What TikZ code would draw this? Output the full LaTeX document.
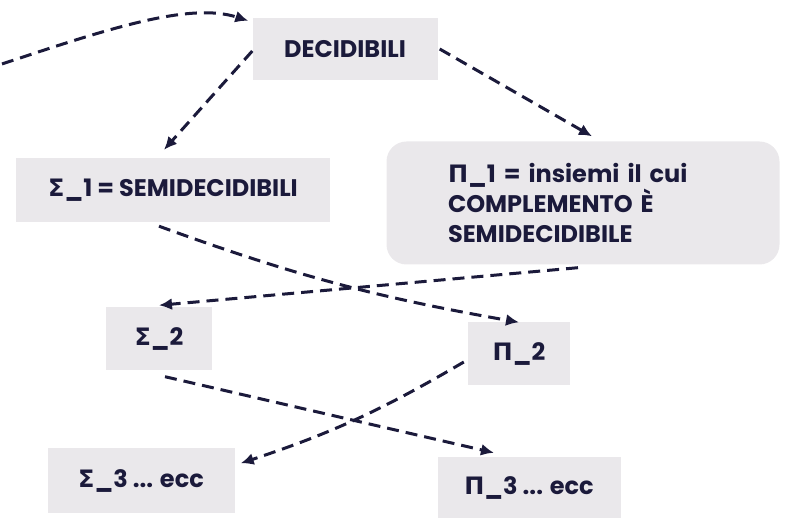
\documentclass[tikz,border=0pt]{standalone}
\usepackage{fontspec}
\setmainfont{Poppins}
\newfontfamily\greco{DejaVu Sans}
\usetikzlibrary{arrows.meta,positioning}
\definecolor{inchiostro}{HTML}{1B1A3B}
\definecolor{carta}{HTML}{EAE8EB}
\newcommand{\Sig}{{\greco Σ}}
\newcommand{\Pig}{{\greco Π}}

\begin{document}
\begin{tikzpicture}[x=1pt,y=1pt,
      classe/.style={rectangle, fill=carta, inner sep=0pt, text=inchiostro, font=\bfseries\fontsize{24}{30}\selectfont},
      freccia/.style={-{Latex[length=13pt,width=12pt]}, draw=inchiostro, line width=3pt, dash pattern=on 12pt off 7pt}]
\useasboundingbox (0,0) rectangle (793,-518);

\node[classe, minimum width=185pt, minimum height=62pt] (dec) at (345,-49) {DECIDIBILI};
\node[classe, minimum width=314pt, minimum height=64pt] (s1) at (173,-190) {\Sig\_1 = SEMIDECIDIBILI};
\node[classe, rounded corners=20pt, minimum width=393pt, minimum height=123pt, text width=270pt, align=left] (p1) at (583,-203) {\Pig\_1 = insiemi il cui\\COMPLEMENTO È\\SEMIDECIDIBILE};
\node[classe, minimum width=106pt, minimum height=63pt] (s2) at (159,-339) {\Sig\_2};
\node[classe, minimum width=102pt, minimum height=63pt] (p2) at (519,-354) {\Pig\_2};
\node[classe, minimum width=187pt, minimum height=65pt] (s3) at (141,-481) {\Sig\_3 ... ecc};
\node[classe, minimum width=183pt, minimum height=62pt] (p3) at (529,-488) {\Pig\_3 ... ecc};
\coordinate (ingresso) at (2,-64);

\draw[freccia] (ingresso) .. controls (110,-28) and (190,-2) .. ([xshift=-4pt,yshift=-3pt]dec.north west);
\draw[freccia] ([yshift=-2pt]dec.west) -- ([xshift=-9pt,yshift=8pt]s1.north);
\draw[freccia] ([xshift=2pt]dec.east) -- ([xshift=9pt,yshift=5pt]p1.north);
\draw[freccia] ([xshift=-14pt,yshift=-4pt]s1.south) to[bend right=5] (p2.north);
\draw[freccia] ([xshift=-5pt,yshift=-3pt]p1.south) -- ([yshift=2pt]s2.north);
\draw[freccia] ([xshift=6pt,yshift=-6pt]s2.south) -- ([xshift=-35pt,yshift=4pt]p3.north);
\draw[freccia] ([xshift=-4pt,yshift=-8pt]p2.west) to[bend left=6] ([xshift=6pt,yshift=-15pt]s3.north east);

\end{tikzpicture}
\end{document}
